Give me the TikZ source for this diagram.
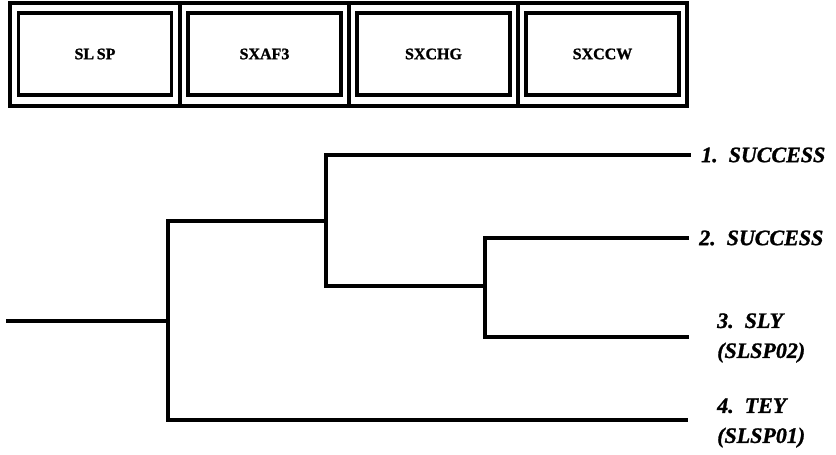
\documentclass[tikz,border=0pt]{standalone}
\usepackage{fontspec}
\setmainfont{Liberation Serif}
\newfontfamily\heavyserif[FakeBold=1.2]{Liberation Serif}
\begin{document}
\begin{tikzpicture}[x=1pt,y=-1pt,
  frame/.style={draw=black,line width=3.5pt},
  cellbox/.style={draw=black,line width=3.8pt,minimum width=153pt,minimum height=82pt,inner sep=0pt,
     font=\heavyserif\fontsize{16}{18}\selectfont\bfseries},
  tree/.style={draw=black,line width=3.8pt,line join=miter,line cap=rect},
  leaf/.style={anchor=west,align=left,inner sep=0pt,font=\heavyserif\fontsize{22}{30}\selectfont\bfseries\itshape}]
\useasboundingbox (0,0) rectangle (836,455);
% header frame
\draw[frame] (10,3) rectangle (687,106);
\draw[frame] (180,3) -- (180,106);
\draw[frame] (349,3) -- (349,106);
\draw[frame] (518,3) -- (518,106);
\node[cellbox] (h1) at (95,54) {SL\,SP};
\node[cellbox] (h2) at (264.5,54) {SXAF3};
\node[cellbox] (h3) at (433.5,54) {SXCHG};
\node[cellbox] (h4) at (602.5,54) {SXCCW};
% tree coordinates
\coordinate (r0) at (8,321);
\coordinate (r1) at (168,321);
\coordinate (a) at (168,221);
\coordinate (d) at (168,420);
\coordinate (b) at (326,221);
\coordinate (b1) at (326,155);
\coordinate (b2) at (326,286);
\coordinate (c) at (485,286);
\coordinate (c1) at (485,238);
\coordinate (c2) at (485,337);
\coordinate (e1) at (689,155);
\coordinate (e2) at (687,238);
\coordinate (e3) at (687,337);
\coordinate (e4) at (686,420);
% leaf labels
\node[leaf] (l1) at (701,155) {1.\ \ SUCCESS};
\node[leaf] (l2) at (699,238) {2.\ \ SUCCESS};
\node[leaf] (l3) at (717,338) {3.\ \ SLY\\(SLSP02)};
\node[leaf] (l4) at (717,423) {4.\ \ TEY\\(SLSP01)};
% connectors
\draw[tree] (r0) -- (r1);
\draw[tree] (a) -- (d) -- (e4);
\draw[tree] (a) -- (b);
\draw[tree] (e1) -- (b1) -- (b2) -- (c);
\draw[tree] (e2) -- (c1) -- (c2) -- (e3);
\end{tikzpicture}
\end{document}
